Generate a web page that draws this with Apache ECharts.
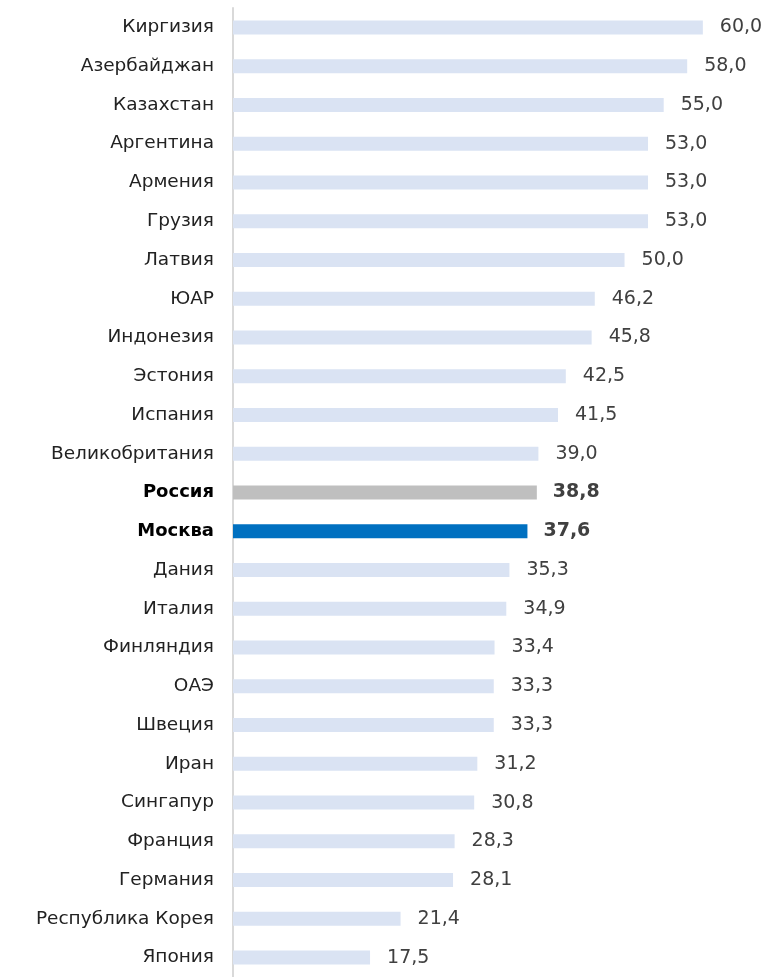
<!DOCTYPE html>
<html>
<head>
<meta charset="utf-8">
<script src="https://cdn.jsdelivr.net/npm/echarts@6/dist/echarts.min.js"></script>
<style>
  html, body { margin: 0; padding: 0; background: #ffffff; }
  #chart { width: 766px; height: 977px; }
</style>
</head>
<body>
<div id="chart"></div>
<script>
// Countries, top to bottom
const categories = [
  'Киргизия', 'Азербайджан', 'Казахстан', 'Аргентина', 'Армения', 'Грузия',
  'Латвия', 'ЮАР', 'Индонезия', 'Эстония', 'Испания', 'Великобритания',
  'Россия', 'Москва', 'Дания', 'Италия', 'Финляндия', 'ОАЭ', 'Швеция',
  'Иран', 'Сингапур', 'Франция', 'Германия', 'Республика Корея', 'Япония'
];
const values = [
  60.0, 58.0, 55.0, 53.0, 53.0, 53.0,
  50.0, 46.2, 45.8, 42.5, 41.5, 39.0,
  38.8, 37.6, 35.3, 34.9, 33.4, 33.3, 33.3,
  31.2, 30.8, 28.3, 28.1, 21.4, 17.5
];
// Rows that are highlighted
const highlightColors = { 'Россия': '#bfbfbf', 'Москва': '#0070c0' };
const baseColor = '#dae3f3';

const fontFamily = '"DejaVu Sans", "Noto Sans", sans-serif';

const seriesData = values.map((v, i) => {
  const name = categories[i];
  const hl = highlightColors[name];
  return {
    value: v,
    itemStyle: { color: hl || baseColor },
    label: hl ? { fontWeight: 'bold', distance: 16 } : {}
  };
});

const chart = echarts.init(document.getElementById('chart'), null, { renderer: 'canvas' });
chart.setOption({
  animation: false,
  backgroundColor: '#ffffff',
  grid: { left: 233, top: 8, width: 509, height: 973, containLabel: false },
  xAxis: {
    type: 'value', min: 0, max: 65,
    show: false
  },
  yAxis: {
    type: 'category',
    data: categories,
    inverse: true,
    axisLine: { show: true, lineStyle: { color: '#d9d9d9', width: 2 } },
    axisTick: { show: false },
    axisLabel: {
      margin: 19,
      fontFamily: fontFamily,
      fontSize: 18.5,
      color: '#222222',
      formatter: function (v) {
        return highlightColors[v] ? '{b|' + v + '}' : v;
      },
      rich: {
        b: { fontFamily: fontFamily, fontSize: 18, fontWeight: 'bold', color: '#000000' }
      }
    }
  },
  series: [{
    type: 'bar',
    data: seriesData,
    barWidth: 14,
    label: {
      show: true,
      position: 'right',
      distance: 17,
      fontFamily: fontFamily,
      fontSize: 19,
      color: '#404040',
      formatter: function (p) { return p.value.toFixed(1).replace('.', ','); }
    }
  }]
});
</script>
</body>
</html>
